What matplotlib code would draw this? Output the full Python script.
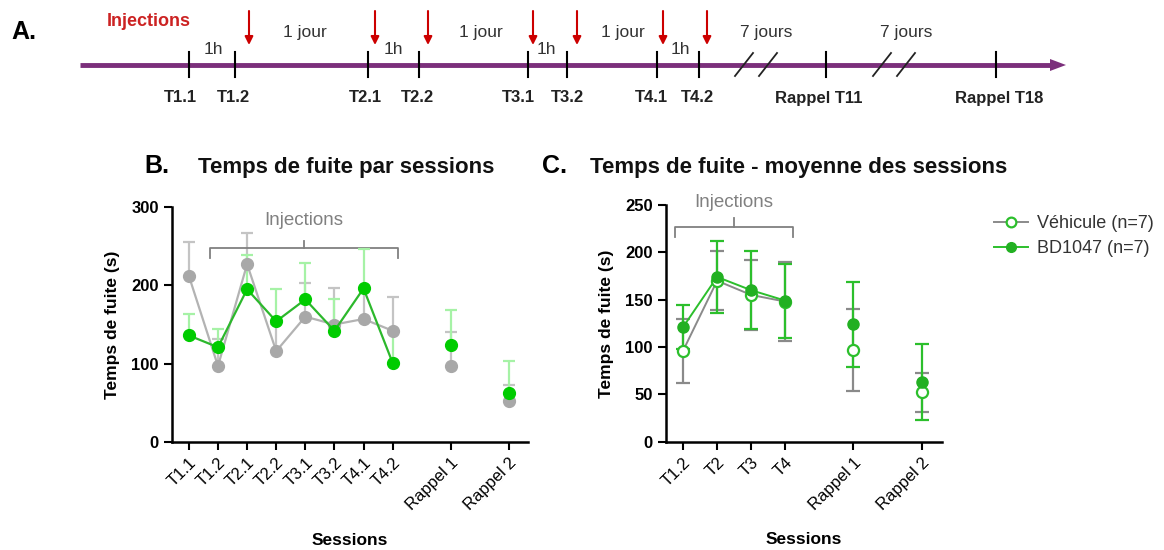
import numpy as np
import matplotlib
matplotlib.use('Agg')
import matplotlib.pyplot as plt

plt.rcParams['font.family'] = ['Liberation Sans', 'DejaVu Sans']

# --- panel B: escape time per session (mean, upper SEM) ---
sessions_b = ['T1.1', 'T1.2', 'T2.1', 'T2.2', 'T3.1', 'T3.2', 'T4.1', 'T4.2', 'Rappel 1', 'Rappel 2']
veh_b = [212, 97, 227, 116, 160, 150, 157, 142, 97, 52]
veh_b_err = [43, 34, 40, 35, 43, 47, 40, 43, 43, 21]
bd_b = [136, 121, 195, 154, 182, 142, 196, 101, 124, 63]
bd_b_err = [27, 23, 44, 41, 46, 41, 50, 39, 45, 40]

# --- panel C: escape time averaged over sessions (mean +/- SEM) ---
sessions_c = ['T1.2', 'T2', 'T3', 'T4', 'Rappel 1', 'Rappel 2']
veh_c = [96, 170, 155, 148, 97, 52]
veh_c_err = [34, 31, 37, 42, 43, 21]
bd_c = [121, 174, 160, 149, 124, 63]
bd_c_err = [23, 38, 41, 39, 45, 40]

# --- panel A: protocol timeline ---
timeline_labels = ['T1.1', 'T1.2', 'T2.1', 'T2.2', 'T3.1', 'T3.2', 'T4.1', 'T4.2', 'Rappel T11', 'Rappel T18']
gap_labels = ['1h', '1 jour', '1h', '1 jour', '1h', '1 jour', '1h', '7 jours', '7 jours']

# layout (pixel coordinates of the timeline)
tl_tick_x = [189, 235, 368, 419, 528, 567, 657, 699, 826, 996]
tl_label_x = [180, 233, 365, 417, 518, 567, 651, 697, 819, 999]
tl_arrow_x = [249, 375, 428, 533, 577, 663, 707]
gap_x = [213, 305, 393, 481, 546, 623, 680, 766, 906]
gap_y = [50, 33, 50, 33, 50, 33, 50, 33, 33]
break_x = [744, 768, 882, 906]

pos_b = [0, 1, 2, 3, 4, 5, 6, 7, 9, 11]
pos_c = [0, 1, 2, 3, 5, 7]

W, H = 1164, 550
fig = plt.figure(figsize=(W / 100, H / 100), dpi=100)

# ---------------- A ----------------
ax_a = fig.add_axes([0, 0, 1, 1])
ax_a.set_xlim(0, W)
ax_a.set_ylim(H, 0)
ax_a.axis('off')

purple = '#7b2f7b'
ax_a.plot([80, 1052], [65, 65], color=purple, lw=3.5, solid_capstyle='butt')
ax_a.fill([1050, 1066, 1050], [59, 65, 71], color=purple, lw=0)
for x in tl_tick_x:
    ax_a.plot([x, x], [52, 77], color='black', lw=1.5)
for x, lab in zip(tl_label_x, timeline_labels):
    ax_a.text(x, 98, lab, ha='center', va='center', fontsize=12, fontweight='bold',
              color='#222222')
for x in tl_arrow_x:
    ax_a.annotate('', xy=(x, 45), xytext=(x, 11),
                  arrowprops=dict(arrowstyle='-|>', color='#cc0000', lw=1.5,
                                  mutation_scale=12, shrinkA=0, shrinkB=0))
for x, y, lab in zip(gap_x, gap_y, gap_labels):
    ax_a.text(x, y, lab, ha='center', va='center', fontsize=12.5, color='#333333')
for x in break_x:
    ax_a.plot([x - 9, x + 9], [76, 53], color='#222222', lw=1.3)
ax_a.text(11, 32, 'A.', ha='left', va='center', fontsize=18, fontweight='bold')
ax_a.text(107, 22, 'Injections', ha='left', va='center', fontsize=13,
          fontweight='bold', color='#cc2222')

# panel titles
ax_a.text(144, 166, 'B.', ha='left', va='center', fontsize=18, fontweight='bold')
ax_a.text(198, 168, 'Temps de fuite par sessions', ha='left', va='center',
          fontsize=16, fontweight='bold', color='#111111')
ax_a.text(542, 166, 'C.', ha='left', va='center', fontsize=18, fontweight='bold')
ax_a.text(590, 168, 'Temps de fuite - moyenne des sessions', ha='left', va='center',
          fontsize=16, fontweight='bold', color='#111111')


def style_axes(ax):
    for side in ('top', 'right'):
        ax.spines[side].set_visible(False)
    for side in ('left', 'bottom'):
        ax.spines[side].set_linewidth(1.8)
    ax.tick_params(width=1.5, length=6, labelsize=12)
    ax.set_ylabel('Temps de fuite (s)', fontsize=12.5, fontweight='bold', labelpad=8)
    ax.set_xlabel('Sessions', fontsize=12.5, fontweight='bold', labelpad=14)


def bracket(ax, x0, x1, y, drop, rise, text_y):
    kw = dict(color='#808080', lw=1.3, clip_on=False)
    ax.plot([x0, x0, x1, x1], [y - drop, y, y, y - drop], **kw)
    ax.plot([(x0 + x1) / 2] * 2, [y, y + rise], **kw)
    ax.text((x0 + x1) / 2, text_y, 'Injections', ha='center', va='center',
            fontsize=13.5, color='#808080')


# ---------------- B ----------------
ax_b = fig.add_axes([172 / W, 1 - 442 / H, 356 / W, 235 / H])
style_axes(ax_b)
xb = np.array(pos_b)
ax_b.errorbar(xb, veh_b, yerr=[np.zeros(len(veh_b)), veh_b_err], fmt='none',
              ecolor='#c4c4c4', elinewidth=1.6, capsize=4, capthick=1.6, zorder=2)
ax_b.errorbar(xb, bd_b, yerr=[np.zeros(len(bd_b)), bd_b_err], fmt='none',
              ecolor='#a6f2a6', elinewidth=1.6, capsize=4, capthick=1.6, zorder=3)
# lines join only the training sessions
ax_b.plot(xb[:8], veh_b[:8], color='#b3b3b3', lw=1.6, zorder=4)
ax_b.plot(xb, veh_b, 'o', color='#a8a8a8', ms=8.5, zorder=5)
ax_b.plot(xb[:8], bd_b[:8], color='#2cb82c', lw=1.6, zorder=6)
ax_b.plot(xb, bd_b, 'o', color='#00cc00', ms=8.5, zorder=7)
ax_b.set_ylim(0, 300)
ax_b.set_yticks([0, 100, 200, 300])
ax_b.set_xlim(-0.58, 11.65)
ax_b.set_xticks(pos_b)
ax_b.set_xticklabels(sessions_b, rotation=45, ha='right', rotation_mode='anchor')
for t in ax_b.get_yticklabels():
    t.set_fontweight('bold')
bracket(ax_b, 0.72, 7.18, 248, 13, 8, 283)

# ---------------- C ----------------
ax_c = fig.add_axes([666 / W, 1 - 441.7 / H, 276 / W, 236.7 / H])
style_axes(ax_c)
xc = np.array(pos_c)
ax_c.errorbar(xc, veh_c, yerr=veh_c_err, fmt='none', ecolor='#8a8a8a',
              elinewidth=1.6, capsize=5, capthick=1.6, zorder=2)
ax_c.errorbar(xc, bd_c, yerr=bd_c_err, fmt='none', ecolor='#2cbf2c',
              elinewidth=1.6, capsize=5, capthick=1.6, zorder=3)
ax_c.plot(xc[:4], veh_c[:4], color='#8a8a8a', lw=1.4, zorder=4)
ax_c.plot(xc[:4], bd_c[:4], color='#2cbf2c', lw=1.4, zorder=5)
ax_c.plot(xc, veh_c, 'o', mfc='white', mec='#2cbf2c', mew=1.6, ms=8, zorder=6)
ax_c.plot(xc, bd_c, 'o', color='#22b022', ms=8, zorder=7)
ax_c.set_ylim(0, 250)
ax_c.set_yticks([0, 50, 100, 150, 200, 250])
ax_c.set_xlim(-0.5, 7.6)
ax_c.set_xticks(pos_c)
ax_c.set_xticklabels(sessions_c, rotation=45, ha='right', rotation_mode='anchor')
for t in ax_c.get_yticklabels():
    t.set_fontweight('bold')
bracket(ax_c, -0.24, 3.24, 227, 11, 9, 253)

# legend
h_veh, = ax_c.plot([], [], '-o', color='#8a8a8a', mfc='white', mec='#2cbf2c',
                   mew=1.6, ms=7, lw=1.4)
h_bd, = ax_c.plot([], [], '-o', color='#2cbf2c', mfc='#22b022', mec='#22b022',
                  ms=7, lw=1.4)
fig.legend([h_veh, h_bd], ['Véhicule (n=7)', 'BD1047 (n=7)'], loc='upper left',
           bbox_to_anchor=(994 / W, 1 - 215 / H), frameon=False, fontsize=13,
           handlelength=1.9, handletextpad=0.5, labelspacing=0.45,
           borderaxespad=0, borderpad=0, labelcolor='#333333')

fig.savefig('out.png', dpi=100)
